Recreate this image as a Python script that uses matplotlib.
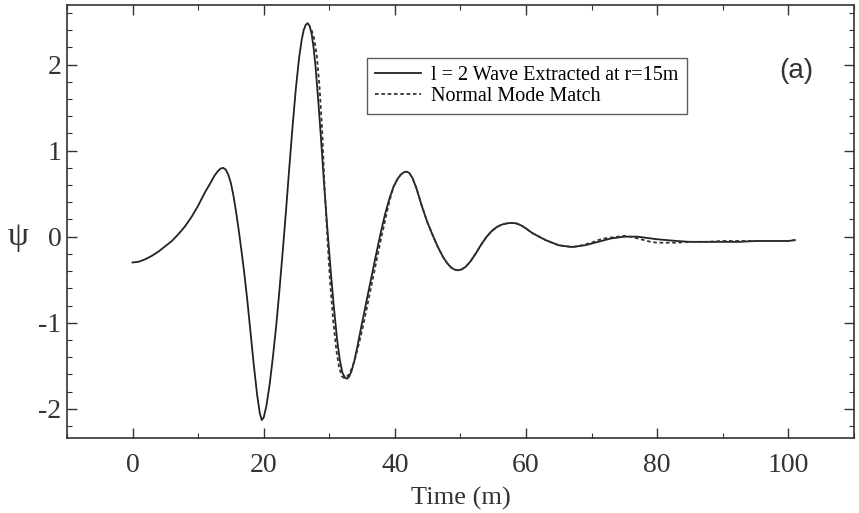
import matplotlib
matplotlib.use("Agg")
import matplotlib.pyplot as plt
from matplotlib.ticker import MultipleLocator

# l = 2 wave extracted at r = 15m (solid)
wave_t = [0.0, 1.0, 2.0, 3.0, 4.0, 5.0, 6.0, 7.0, 8.0, 9.0, 10.0, 11.0, 12.0, 12.5, 13.0,
          13.4, 13.8, 14.2, 14.6, 15.0, 15.4, 15.8, 16.2, 16.6, 17.0, 17.5, 18.0, 18.5,
          19.0, 19.4, 19.7, 20.0, 20.4, 20.9, 21.4, 21.9, 22.4, 22.9, 23.4, 23.9, 24.4,
          24.9, 25.4, 25.8, 26.1, 26.4, 26.7, 27.0, 27.3, 27.6, 27.9, 28.3, 28.7, 29.2,
          29.7, 30.2, 30.7, 31.2, 31.6, 32.0, 32.4, 32.7, 33.0, 33.4, 33.8, 34.3, 35.0,
          35.7, 36.4, 37.1, 37.8, 38.5, 39.2, 39.8, 40.4, 40.9, 41.4, 41.8, 42.2, 42.7,
          43.3, 44.1, 44.9, 45.7, 46.5, 47.3, 48.0, 48.6, 49.2, 49.7, 50.2, 50.8, 51.5,
          52.3, 53.1, 53.9, 54.7, 55.5, 56.3, 57.1, 57.8, 58.5, 59.3, 60.1, 61.0, 62.0,
          63.0, 64.0, 65.0, 66.0, 67.0, 68.0, 69.0, 70.0, 71.0, 72.0, 73.0, 74.0, 75.0,
          76.0, 77.0, 78.0, 79.0, 80.0, 81.5, 83.0, 85.0, 87.5, 90.0, 92.5, 95.0, 97.5,
          100.0, 101.0]
wave_psi = [-0.30, -0.29, -0.26, -0.22, -0.17, -0.11, -0.05, 0.03, 0.12, 0.23, 0.36, 0.51,
            0.64, 0.71, 0.76, 0.79, 0.80, 0.78, 0.72, 0.62, 0.47, 0.28, 0.07, -0.16,
            -0.40, -0.74, -1.12, -1.50, -1.84, -2.05, -2.13, -2.10, -1.97, -1.72, -1.40,
            -1.04, -0.62, -0.17, 0.30, 0.80, 1.28, 1.72, 2.08, 2.29, 2.40, 2.46, 2.48,
            2.45, 2.36, 2.20, 1.98, 1.60, 1.18, 0.62, 0.10, -0.38, -0.82, -1.20, -1.43,
            -1.58, -1.64, -1.65, -1.63, -1.56, -1.45, -1.27, -1.00, -0.74, -0.48, -0.22,
            0.03, 0.26, 0.45, 0.58, 0.67, 0.72, 0.75, 0.755, 0.74, 0.68, 0.56, 0.36, 0.18,
            0.03, -0.11, -0.23, -0.31, -0.36, -0.385, -0.39, -0.38, -0.35, -0.29, -0.20,
            -0.10, -0.01, 0.06, 0.11, 0.14, 0.155, 0.16, 0.155, 0.13, 0.09, 0.04, 0.00,
            -0.04, -0.07, -0.10, -0.11, -0.12, -0.11, -0.10, -0.08, -0.06, -0.04, -0.02,
            -0.01, 0.00, 0.00, 0.00, -0.01, -0.02, -0.03, -0.04, -0.05, -0.06, -0.06,
            -0.06, -0.06, -0.05, -0.05, -0.05, -0.04]

# normal mode match (dashed)
mode_t = [27.3, 27.7, 28.1, 28.5, 28.9, 29.3, 29.7, 30.1, 30.6, 31.1, 31.5, 31.9, 32.2,
          32.6, 33.0, 33.5, 34.0, 34.6, 35.2, 35.8, 36.5, 37.2, 37.9, 38.6, 39.2, 39.8,
          40.4, 40.9, 41.4, 41.8, 42.2, 42.7, 43.3, 44.1, 44.9, 45.7, 46.5, 47.3, 48.0,
          48.6, 49.2, 49.7, 50.2, 50.8, 51.5, 52.3, 53.1, 53.9, 54.7, 55.5, 56.3, 57.1,
          57.8, 58.5, 59.3, 60.1, 61.0, 62.0, 63.0, 64.0, 65.0, 66.0, 67.0, 68.0, 69.0,
          70.0, 71.0, 72.0, 73.0, 74.0, 75.0, 76.0, 77.0, 78.0, 79.0, 80.0, 81.5, 83.0,
          85.0, 87.5, 90.0, 92.5, 95.0, 97.5, 100.0, 101.0]
mode_psi = [2.40, 2.30, 2.10, 1.75, 1.25, 0.55, 0.00, -0.50, -0.98, -1.33, -1.52, -1.62,
            -1.64, -1.63, -1.60, -1.52, -1.40, -1.22, -1.02, -0.80, -0.54, -0.28, -0.02,
            0.22, 0.42, 0.58, 0.67, 0.72, 0.75, 0.755, 0.74, 0.68, 0.56, 0.36, 0.18, 0.03,
            -0.11, -0.23, -0.31, -0.36, -0.385, -0.39, -0.38, -0.35, -0.29, -0.20, -0.10,
            -0.01, 0.06, 0.11, 0.14, 0.155, 0.16, 0.155, 0.13, 0.09, 0.04, 0.00, -0.04,
            -0.07, -0.10, -0.11, -0.12, -0.11, -0.09, -0.07, -0.04, -0.02, -0.01, 0.00,
            0.01, 0.00, -0.02, -0.04, -0.06, -0.07, -0.07, -0.07, -0.06, -0.06, -0.05,
            -0.05, -0.05, -0.05, -0.05, -0.04]

serif = ["Liberation Serif", "DejaVu Serif"]
plt.rcParams["font.family"] = serif
plt.rcParams["axes.unicode_minus"] = False

fig = plt.figure(figsize=(8.59, 5.13), dpi=100)
ax = fig.add_axes([0.078, 0.146, 0.916, 0.844])

ax.plot(wave_t, wave_psi, color="#222222", lw=1.3, label="l = 2 Wave Extracted at r=15m")
ax.plot(mode_t, mode_psi, color="#333333", lw=1.3, ls=(0, (2, 1.5)), label="Normal Mode Match")

ax.set_xlim(-10, 110)
ax.set_ylim(-2.34, 2.69)
ax.xaxis.set_major_locator(MultipleLocator(20))
ax.xaxis.set_minor_locator(MultipleLocator(10))
ax.yaxis.set_major_locator(MultipleLocator(1))
ax.yaxis.set_minor_locator(MultipleLocator(0.2))
ax.tick_params(which="both", direction="in", top=True, right=True, color="#333333")
ax.tick_params(which="major", length=7, width=1.0, labelsize=20, labelcolor="#333333")
ax.tick_params(which="minor", length=3.5, width=0.8)
ax.tick_params(axis="x", pad=11)
ax.tick_params(axis="y", pad=4)
for sp in ax.spines.values():
    sp.set_linewidth(1.2)
    sp.set_color("#333333")

ax.set_xlabel("Time (m)", fontsize=19, color="#333333", labelpad=6)
ax.set_ylabel("ψ", fontsize=24, color="#333333", rotation=0, va="center")
ax.yaxis.set_label_coords(-0.062, 0.464)

ax.legend(loc="upper left", bbox_to_anchor=(0.381, 0.878), fontsize=14.5, frameon=True,
          fancybox=False, edgecolor="#333333", handlelength=2.3, handletextpad=0.5,
          borderpad=0.4, labelspacing=0.1, borderaxespad=0)
ax.get_legend().get_frame().set_linewidth(1.0)

ax.text(101.2, 1.93, "(a)", fontsize=20, family=["Liberation Sans", "DejaVu Sans"],
        color="#333333", ha="center", va="center")

fig.savefig("out.png", dpi=100)
